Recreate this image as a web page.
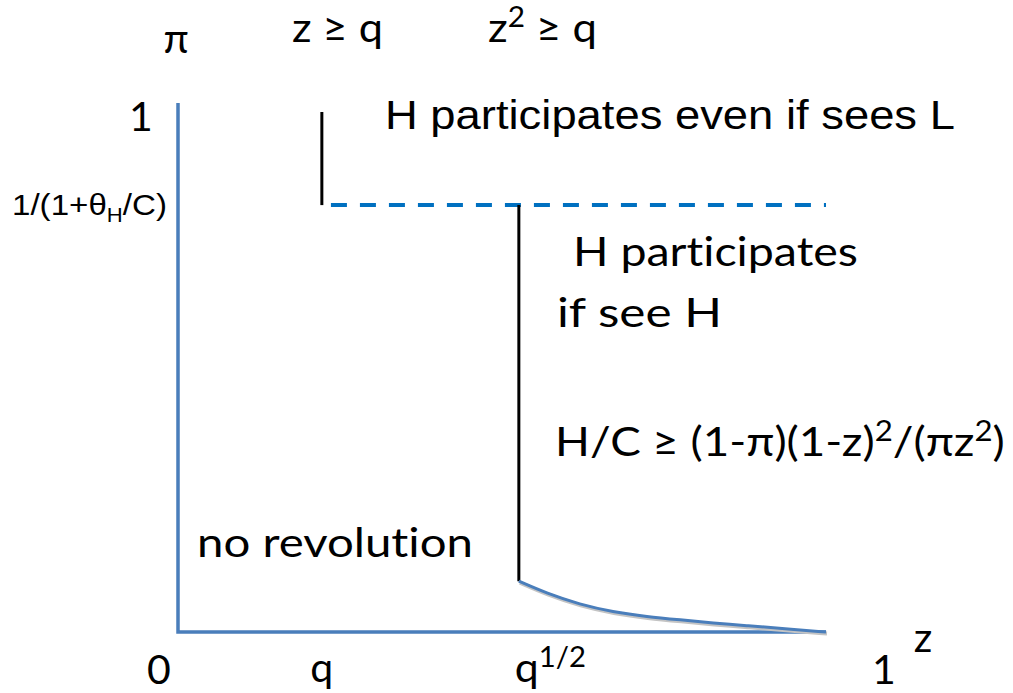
<!DOCTYPE html>
<html>
<head>
<meta charset="utf-8">
<script src="https://cdn.jsdelivr.net/npm/d3@7"></script>
<style>
  body { margin: 0; background: #fff; }
  text { font-variant-ligatures: none; }
  .calibri { font-family: Lato, "Open Sans", sans-serif; fill: #000; }
  .arial { font-family: "Liberation Sans", Arial, sans-serif; fill: #000; }
</style>
</head>
<body>
<div id="chart"></div>
<script>
// thresholds on the z axis (fraction of the axis length)
const zMarks = [0.222, 0.526]
// pi threshold 1/(1+thetaH/C) and the top of the z >= q line
const piLevels = [0.807, 0.983]
// boundary curve H/C = (1-pi)(1-z)^2/(pi z^2)
const curveZ = [0.526, 0.569, 0.62, 0.671, 0.724, 0.775, 0.826, 0.878, 0.929, 1.0]
const curvePi = [0.096, 0.073, 0.052, 0.038, 0.029, 0.023, 0.017, 0.012, 0.007, 0.0]
// tick labels
const xTickLabels = ["0", "q", "q", "1"]
const yTickLabels = ["1", "1/(1+θ"]

const width = 1013
const height = 693
const margin = { top: 103, right: 187, bottom: 61, left: 178 }

const axisBlue = "#4a7ebb"
const dashBlue = "#0070c0"

const draw = () => {
  const x = d3
    .scaleLinear()
    .domain([0, 1])
    .range([margin.left, width - margin.right])
  const y = d3
    .scaleLinear()
    .domain([0, 1])
    .range([height - margin.bottom, margin.top])

  const svg = d3
    .select("#chart")
    .append("svg")
    .attr("width", width)
    .attr("height", height)

  const line = d3
    .line()
    .x(d => x(d[0]))
    .y(d => y(d[1]))

  // axes
  svg
    .append("path")
    .attr("d", line([[0, 1], [0, 0], [1, 0]]))
    .attr("fill", "none")
    .attr("stroke", axisBlue)
    .attr("stroke-width", 3.5)

  // dashed threshold line
  svg
    .append("path")
    .attr("d", line([[zMarks[0] + 0.014, piLevels[0]], [1, piLevels[0]]]))
    .attr("stroke", dashBlue)
    .attr("stroke-width", 4)
    .attr("stroke-dasharray", "16,13")

  // black vertical boundaries
  svg
    .append("path")
    .attr("d", line([[zMarks[0], piLevels[1]], [zMarks[0], piLevels[0]]]))
    .attr("stroke", "#000")
    .attr("stroke-width", 3)
  svg
    .append("path")
    .attr("d", line([[zMarks[1], piLevels[0]], [zMarks[1], curvePi[0]]]))
    .attr("stroke", "#000")
    .attr("stroke-width", 3)

  // curve with a soft shadow
  const curveData = curveZ.map((z, i) => [z, curvePi[i]])
  const curve = line.curve(d3.curveBasis)
  svg
    .append("path")
    .datum(curveData)
    .attr("d", curve)
    .attr("fill", "none")
    .attr("stroke", "#c4c4c4")
    .attr("stroke-width", 4)
    .attr("transform", "translate(1,1.5)")
  svg
    .append("path")
    .datum(curveData)
    .attr("d", curve)
    .attr("fill", "none")
    .attr("stroke", axisBlue)
    .attr("stroke-width", 3)

  // label helper: left edge, right edge (stretched to fit) and baseline
  const label = (cls, size, left, right, base, build) => {
    const g = svg.append("g")
    const t = g
      .append("text")
      .attr("class", cls)
      .attr("font-size", size)
    build(t)
    if (right == null) {
      // centred, not stretched
      t.attr("text-anchor", "middle")
      g.attr("transform", `translate(${left},${base})`)
      return
    }
    const bb = t.node().getBBox()
    const sx = (right - left) / bb.width
    g.attr("transform", `translate(${left - bb.x * sx},${base}) scale(${sx},1)`)
  }
  const sup = (t, s, size) => {
    t.append("tspan").attr("font-size", size).attr("dy", -15).text(s)
    return t.append("tspan").attr("dy", 15)
  }

  // axis titles
  label("calibri", 41, 176, null, 53, t => t.text("π"))
  label("calibri", 41, 923, null, 652, t => t.text("z"))

  // x tick labels
  label("calibri", 41, 159, null, 684, t => t.text(xTickLabels[0]))
  label("calibri", 41, x(zMarks[0]), null, 682, t => t.text(xTickLabels[1]))
  label("calibri", 41, x(zMarks[1]) - 4, 586, 682, t => {
    t.append("tspan").text(xTickLabels[2])
    sup(t, "1/2", 28)
  })
  label("calibri", 41, 884, null, 684, t => t.text(xTickLabels[3]))

  // y tick labels
  label("calibri", 41, 141, null, y(1) + 28, t => t.text(yTickLabels[0]))
  label("arial", 30, 12, 167, y(piLevels[0]) + 10, t => {
    t.append("tspan").text(yTickLabels[1])
    t.append("tspan").attr("font-size", 20).attr("dy", 7).text("H")
    t.append("tspan").attr("dy", -7).text("/C)")
  })

  // conditions above the chart
  label("calibri", 41, 292, 383, 42, t => t.text("z ≥ q"))
  label("calibri", 41, 488, 597, 42, t => {
    t.append("tspan").text("z")
    sup(t, "2", 28).text(" ≥ q")
  })

  // region labels
  label("arial", 41, 385, 955, 129, t => t.text("H participates even if sees L"))
  label("calibri", 41, 573, 858, 266, t => t.text("H participates"))
  label("calibri", 41, 557, 722, 327, t => t.text("if see H"))
  label("calibri", 41, 555, 1005, 456, t => {
    t.append("tspan").text("H/C ≥ (1-π)(1-z)")
    sup(t, "2", 28).text("/(πz")
    sup(t, "2", 28).text(")")
  })
  label("calibri", 41, 197, 473, 557, t => t.text("no revolution"))
}

document.fonts.ready.then(draw)
</script>
</body>
</html>
